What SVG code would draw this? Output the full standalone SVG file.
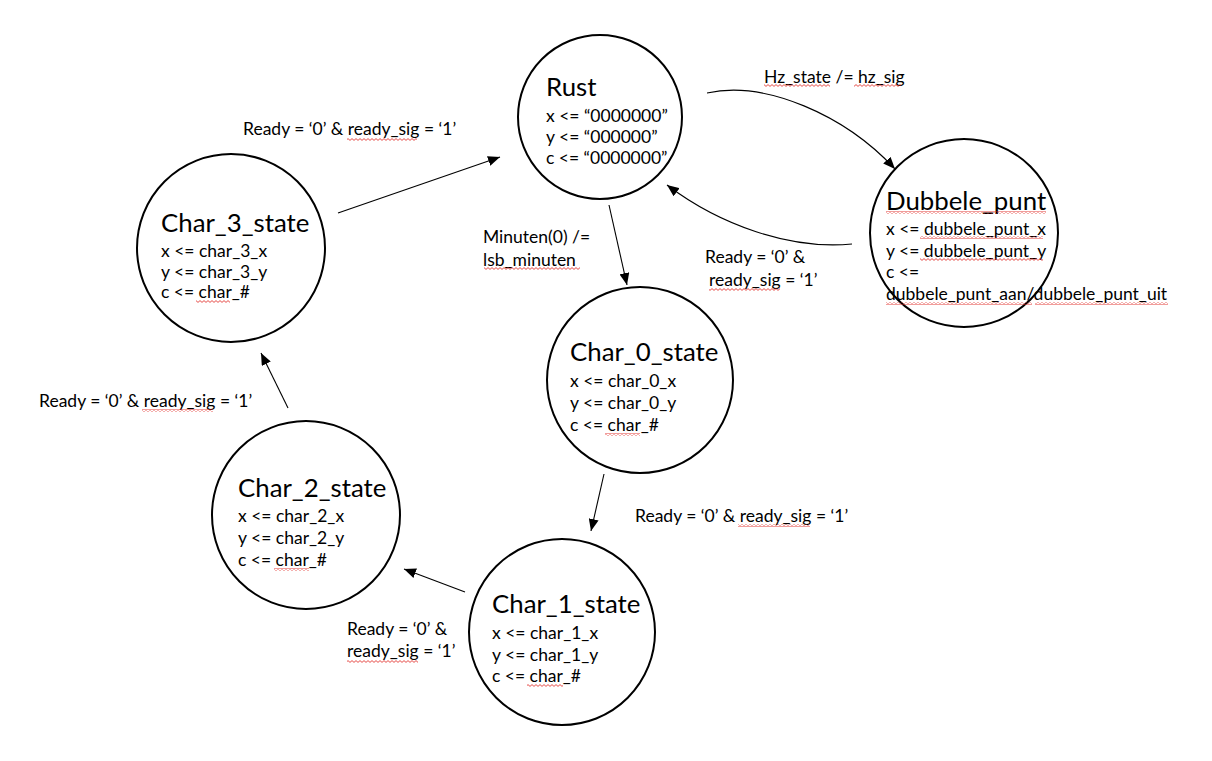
<svg xmlns="http://www.w3.org/2000/svg" width="1212" height="761" viewBox="0 0 1212 761">
<style>
text{font-family:Lato,"Liberation Sans",sans-serif;fill:#000}
.t{font-size:25.8px}
.b{font-size:17.5px}
.node{fill:#fff;stroke:#000;stroke-width:2}
.edge{fill:none;stroke:#000;stroke-width:1.1;marker-end:url(#arr)}
.sq{fill:url(#wave)}
</style>
<defs>
<marker id="arr" viewBox="0 0 12 10" refX="12" refY="5" markerWidth="12" markerHeight="10" markerUnits="userSpaceOnUse" orient="auto">
<path d="M0,0 L12,5 L0,10 z" fill="#000"/>
</marker>
<pattern id="wave" patternUnits="userSpaceOnUse" width="4" height="3">
<path d="M0,0.6 L2,2.4 L4,0.6" fill="none" stroke="#e0201a" stroke-width="0.8"/>
</pattern>
</defs>
<rect width="1212" height="761" fill="#fff"/>
<g id="connectors">
<path class="edge" d="M707,93 C765,80 845,115 895,169"/>
<path class="edge" d="M852,244 C790,250 720,225 667,185"/>
<path class="edge" d="M338,213 L500,157"/>
<path class="edge" d="M609,205 L627,285"/>
<path class="edge" d="M604,474 L591,531"/>
<path class="edge" d="M465,592 L404,569"/>
<path class="edge" d="M288,408 L261,353"/>
</g>
<g id="edge-labels">
<text class="b" x="764" y="83">Hz_state /= hz_sig</text>
<rect class="sq" x="764" y="84" width="66" height="3"/>
<rect class="sq" x="854" y="84" width="47" height="3"/>
<text class="b" x="243" y="135">Ready = ‘0’ &amp; ready_sig = ‘1’</text>
<rect class="sq" x="347" y="138" width="70" height="3"/>
<text class="b" x="483" y="243">Minuten(0) /=</text>
<text class="b" x="483" y="266">lsb_minuten</text>
<rect class="sq" x="484" y="267" width="96" height="3"/>
<text class="b" x="705" y="263">Ready = ‘0’ &amp;</text>
<text class="b" x="709" y="286">ready_sig = ‘1’</text>
<rect class="sq" x="709" y="288" width="71" height="3"/>
<text class="b" x="39" y="407">Ready = ‘0’ &amp; ready_sig = ‘1’</text>
<rect class="sq" x="142" y="409" width="71" height="3"/>
<text class="b" x="635" y="522">Ready = ‘0’ &amp; ready_sig = ‘1’</text>
<rect class="sq" x="738" y="524" width="72" height="3"/>
<text class="b" x="347" y="635">Ready = ‘0’ &amp;</text>
<text class="b" x="347" y="657">ready_sig = ‘1’</text>
<rect class="sq" x="347" y="660" width="71" height="3"/>
</g>
<g id="rust">
<circle class="node" cx="600" cy="117" r="82"/>
<text class="t" x="546" y="96">Rust</text>
<text class="b" x="546" y="122">x &lt;= “0000000”</text>
<text class="b" x="546" y="143">y &lt;= “000000”</text>
<text class="b" x="546" y="164">c &lt;= “0000000”</text>
</g>
<g id="dubbele_punt">
<circle class="node" cx="964" cy="233" r="94"/>
<text class="t" x="886" y="210">Dubbele_punt</text>
<rect class="sq" x="886" y="211" width="160" height="3"/>
<text class="b" x="886" y="235">x &lt;= dubbele_punt_x</text>
<rect class="sq" x="920" y="236" width="123" height="3"/>
<text class="b" x="886" y="257">y &lt;= dubbele_punt_y</text>
<rect class="sq" x="920" y="258" width="123" height="3"/>
<text class="b" x="886" y="278">c &lt;=</text>
<text class="b" x="886" y="300">dubbele_punt_aan/dubbele_punt_uit</text>
<rect class="sq" x="886" y="302" width="146" height="3"/>
<rect class="sq" x="1035" y="302" width="133" height="3"/>
</g>
<g id="char_3_state">
<circle class="node" cx="231" cy="248" r="94"/>
<text class="t" x="161" y="232">Char_3_state</text>
<text class="b" x="161" y="257">x &lt;= char_3_x</text>
<text class="b" x="161" y="278">y &lt;= char_3_y</text>
<text class="b" x="161" y="298">c &lt;= char_#</text>
<rect class="sq" x="196" y="300" width="34" height="3"/>
</g>
<g id="char_0_state">
<circle class="node" cx="640" cy="380" r="93"/>
<text class="t" x="570" y="361">Char_0_state</text>
<text class="b" x="570" y="387">x &lt;= char_0_x</text>
<text class="b" x="570" y="409">y &lt;= char_0_y</text>
<text class="b" x="570" y="431">c &lt;= char_#</text>
<rect class="sq" x="605" y="433" width="35" height="3"/>
</g>
<g id="char_2_state">
<circle class="node" cx="306" cy="515" r="94"/>
<text class="t" x="238" y="497">Char_2_state</text>
<text class="b" x="238" y="522">x &lt;= char_2_x</text>
<text class="b" x="238" y="544">y &lt;= char_2_y</text>
<text class="b" x="238" y="566">c &lt;= char_#</text>
<rect class="sq" x="274" y="568" width="35" height="3"/>
</g>
<g id="char_1_state">
<circle class="node" cx="562" cy="632" r="93"/>
<text class="t" x="492" y="613">Char_1_state</text>
<text class="b" x="492" y="639">x &lt;= char_1_x</text>
<text class="b" x="492" y="661">y &lt;= char_1_y</text>
<text class="b" x="492" y="682">c &lt;= char_#</text>
<rect class="sq" x="527" y="684" width="36" height="3"/>
</g>
</svg>
